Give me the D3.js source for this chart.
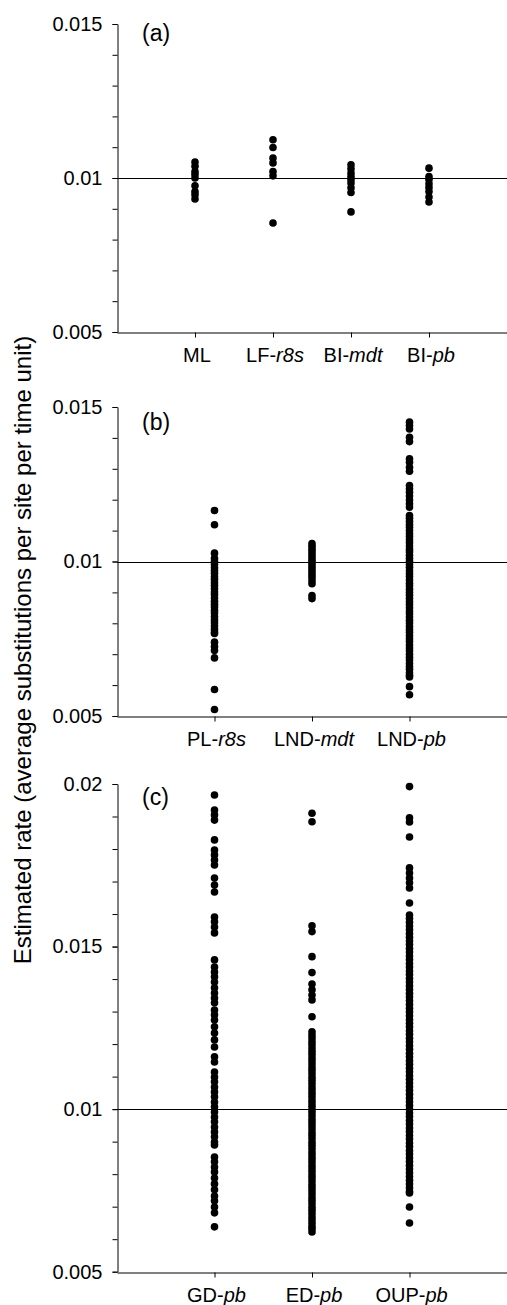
<!DOCTYPE html>
<html>
<head>
<meta charset="utf-8">
<script src="https://cdn.jsdelivr.net/npm/d3@7"></script>
<style>
  body { margin: 0; background: #fff; }
  svg { display: block; }
  text { font-family: "Liberation Sans", Arial, sans-serif; fill: #000; }
</style>
</head>
<body>
<svg id="chart" width="507" height="1305"></svg>
<script>
// panel (a)
var catsA = [['ML', ''], ['LF-', 'r8s'], ['BI-', 'mdt'], ['BI-', 'pb']];
var mlVals = [0.01052, 0.01038, 0.01021, 0.01011, 0.01000, 0.00975, 0.00956, 0.00946, 0.00932];
var lfR8sVals = [0.01124, 0.01099, 0.01065, 0.01049, 0.01021, 0.01007, 0.00854];
var biMdtVals = [0.01043, 0.0103, 0.01016, 0.01005, 0.00995, 0.00984, 0.00968, 0.00953, 0.0089];
var biPbVals = [0.01032, 0.01005, 0.00995, 0.00981, 0.00969, 0.00956, 0.00938, 0.00922];

// panel (b)
var catsB = [['PL-', 'r8s'], ['LND-', 'mdt'], ['LND-', 'pb']];
var plR8sVals = [0.01165, 0.01119, 0.01027, 0.0101, 0.01, 0.0099, 0.0098, 0.00971, 0.00962, 0.00951, 0.00942,
  0.00931, 0.00922, 0.00912, 0.00901, 0.00893, 0.00882, 0.00871, 0.00862, 0.00853, 0.00842, 0.00833, 0.00822,
  0.00811, 0.00802, 0.00791, 0.00781, 0.00772, 0.00767, 0.00739, 0.00725, 0.00712, 0.00688, 0.00586, 0.00521];
var lndMdtVals = [0.01058, 0.01049, 0.0104, 0.01031, 0.01022, 0.01013, 0.01004, 0.00995, 0.00986, 0.00977,
  0.00968, 0.00958, 0.00949, 0.00938, 0.00928, 0.0089, 0.0088];
var lndPbVals = [0.01451, 0.0144, 0.01429, 0.01402, 0.01388, 0.01332, 0.01321, 0.01305, 0.01292, 0.01246,
  0.01235, 0.01224, 0.01212, 0.01199, 0.01187, 0.01176, 0.01149, 0.0114, 0.0113, 0.0112, 0.01111, 0.011,
  0.0109, 0.01081, 0.0107, 0.01061, 0.0105, 0.0104, 0.01031, 0.0102, 0.0101, 0.01001, 0.0099, 0.00981, 0.0097,
  0.0096, 0.00951, 0.0094, 0.0093, 0.00921, 0.0091, 0.009, 0.00891, 0.0088, 0.0087, 0.00861, 0.0085, 0.0084,
  0.00831, 0.0082, 0.0081, 0.00801, 0.0079, 0.0078, 0.00771, 0.0076, 0.0075, 0.00741, 0.0073, 0.0072, 0.00711,
  0.007, 0.0069, 0.00681, 0.0067, 0.0066, 0.00651, 0.0064, 0.00632, 0.00626, 0.00595, 0.00569];

// panel (c)
var catsC = [['GD-', 'pb'], ['ED-', 'pb'], ['OUP-', 'pb']];
var gdPbVals = [0.01966, 0.0192, 0.01905, 0.01889, 0.01828, 0.01797, 0.01782, 0.01766, 0.01751, 0.01711,
  0.01689, 0.01668, 0.01591, 0.01576, 0.0156, 0.01542, 0.01459, 0.01437, 0.01422, 0.01407, 0.01391, 0.01373,
  0.01357, 0.01342, 0.01327, 0.01305, 0.0129, 0.01274, 0.01253, 0.01234, 0.01213, 0.01191, 0.01161, 0.01145,
  0.01114, 0.01099, 0.01084, 0.01068, 0.01053, 0.01038, 0.01022, 0.01007, 0.00991, 0.00976, 0.00961, 0.00945,
  0.0093, 0.00915, 0.00899, 0.0089, 0.00853, 0.00838, 0.00822, 0.00807, 0.00788, 0.0077, 0.00752, 0.00733,
  0.00718, 0.00699, 0.00681, 0.00638];
var edPbVals = [0.0191, 0.01884, 0.01564, 0.01546, 0.01469, 0.0142, 0.01385, 0.01367, 0.01351, 0.01336, 0.01284,
  0.01238, 0.01228, 0.01219, 0.01208, 0.01199, 0.01188, 0.01178, 0.01169, 0.01158, 0.01149, 0.01139, 0.01128,
  0.01119, 0.01109, 0.01098, 0.01089, 0.01079, 0.01068, 0.01059, 0.01049, 0.01039, 0.01028, 0.01019, 0.01009,
  0.00998, 0.00989, 0.00979, 0.00968, 0.00959, 0.00949, 0.00939, 0.00928, 0.00919, 0.00909, 0.00898, 0.00889,
  0.00879, 0.00868, 0.00859, 0.00849, 0.00839, 0.00828, 0.00819, 0.00809, 0.00798, 0.00789, 0.00779, 0.00768,
  0.00759, 0.00749, 0.00739, 0.00728, 0.00719, 0.00709, 0.00698, 0.00689, 0.00679, 0.00668, 0.00659, 0.00649,
  0.00639, 0.00631, 0.00622];
var oupPbVals = [0.01992, 0.01896, 0.01883, 0.01837, 0.01742, 0.01726, 0.01711, 0.01696, 0.0168, 0.01634,
  0.01597, 0.01586, 0.01575, 0.01563, 0.01552, 0.0154, 0.01529, 0.01517, 0.01506, 0.01494, 0.01483, 0.01471,
  0.0146, 0.01448, 0.01437, 0.01425, 0.01414, 0.01402, 0.01391, 0.01379, 0.01368, 0.01356, 0.01345, 0.01333,
  0.01322, 0.0131, 0.01299, 0.01287, 0.01276, 0.01264, 0.01253, 0.01241, 0.0123, 0.01218, 0.01207, 0.01195,
  0.01184, 0.01172, 0.01161, 0.01149, 0.01138, 0.01126, 0.01115, 0.01103, 0.01092, 0.0108, 0.01069, 0.01057,
  0.01046, 0.01034, 0.01023, 0.01011, 0.01, 0.00988, 0.00977, 0.00965, 0.00954, 0.00942, 0.00931, 0.00919,
  0.00908, 0.00896, 0.00885, 0.00873, 0.00862, 0.0085, 0.00839, 0.00827, 0.00816, 0.00804, 0.00793, 0.00781,
  0.0077, 0.00758, 0.00747, 0.00742, 0.00699, 0.0065];

var majorA = [0.005, 0.01, 0.015];
var majorC = [0.005, 0.01, 0.015, 0.02];
var refLine = 0.01;
var yTitle = 'Estimated rate (average substitutions per site per time unit)';

var panels = [
  { tag: '(a)', cats: catsA, series: [mlVals, lfR8sVals, biMdtVals, biPbVals], yDomain: [0.005, 0.015], majors: majorA, top: 24, bottom: 332, tagY: 33 },
  { tag: '(b)', cats: catsB, series: [plR8sVals, lndMdtVals, lndPbVals], yDomain: [0.005, 0.015], majors: majorA, top: 407, bottom: 716, tagY: 422 },
  { tag: '(c)', cats: catsC, series: [gdPbVals, edPbVals, oupPbVals], yDomain: [0.005, 0.02], majors: majorC, top: 784, bottom: 1271.7, tagY: 797 }
];

var svg = d3.select('#chart');
var left = 117, right = 507;

panels.forEach(function (p) {
  var g = svg.append('g');
  var x = d3.scaleLinear().domain([0, p.cats.length + 1]).range([left, right]);
  var y = d3.scaleLinear().domain(p.yDomain).range([p.bottom, p.top]);

  // minor ticks every 0.001
  var minors = d3.range(Math.round(p.yDomain[0] * 1000), Math.round(p.yDomain[1] * 1000) + 1).map(function (d) { return d / 1000; });

  g.append('g')
    .attr('transform', 'translate(' + (left + 0.5) + ',0)')
    .call(d3.axisLeft(y).tickValues(minors).tickSize(5).tickSizeOuter(0).tickFormat(''))
    .call(function (a) { a.selectAll('line, path').attr('stroke', '#000'); });

  var yAxis = g.append('g')
    .attr('transform', 'translate(' + (left + 0.5) + ',0)')
    .call(d3.axisLeft(y).tickValues(p.majors).tickSize(5).tickPadding(10).tickSizeOuter(0)
      .tickFormat(function (d) { return String(+d.toFixed(3)); }));
  yAxis.select('.domain').remove();
  yAxis.selectAll('line').attr('stroke', '#000');
  yAxis.selectAll('text').attr('font-size', 20).attr('font-family', '"Liberation Sans", Arial, sans-serif');

  var xAxis = g.append('g')
    .attr('transform', 'translate(0,' + (Math.round(p.bottom) + 0.5) + ')')
    .call(d3.axisBottom(x).tickValues(d3.range(1, p.cats.length + 1)).tickSize(5).tickSizeOuter(0).tickFormat(''));
  xAxis.selectAll('line, path').attr('stroke', '#000');

  var labels = g.selectAll('.cat')
    .data(p.cats)
    .enter().append('text')
    .attr('class', 'cat')
    .attr('x', function (d, i) { return x(i + 1) + 2; })
    .attr('y', p.bottom + 30)
    .attr('text-anchor', 'middle')
    .attr('font-size', 20);
  labels.append('tspan').text(function (d) { return d[0]; });
  labels.append('tspan').attr('font-style', 'italic').text(function (d) { return d[1]; });

  // reference line at 0.01
  g.append('line')
    .attr('x1', left).attr('x2', right)
    .attr('y1', Math.round(y(refLine)) + 0.5).attr('y2', Math.round(y(refLine)) + 0.5)
    .attr('stroke', '#000').attr('stroke-width', 1);

  p.series.forEach(function (vals, i) {
    g.selectAll(null)
      .data(vals)
      .enter().append('circle')
      .attr('cx', x(i + 1))
      .attr('cy', function (d) { return y(d); })
      .attr('r', 3.8)
      .attr('fill', '#000');
  });

  g.append('text')
    .attr('x', 142)
    .attr('y', p.tagY)
    .attr('dy', '0.35em')
    .attr('font-size', 23)
    .text(p.tag);
});

svg.append('text')
  .attr('transform', 'translate(31,650) rotate(-90)')
  .attr('text-anchor', 'middle')
  .attr('font-size', 24)
  .text(yTitle);
</script>
</body>
</html>
